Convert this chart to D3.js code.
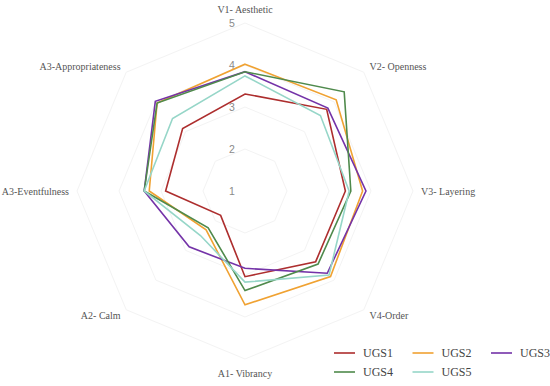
<!DOCTYPE html>
<html>
<head>
<meta charset="utf-8">
<script src="https://cdn.jsdelivr.net/npm/d3@7"></script>
<style>
  body { margin: 0; background: #fff; }
  svg { display: block; }
</style>
</head>
<body>
<svg id="chart" width="550" height="386"></svg>
<script>
// radar axes, clockwise from the top
const axes = ["V1- Aesthetic", "V2- Openness", "V3- Layering", "V4-Order",
              "A1- Vibrancy", "A2- Calm", "A3-Eventfulness", "A3-Appropriateness"]
const ticks = [1, 2, 3, 4, 5]

const seriesNames = ["UGS1", "UGS2", "UGS3", "UGS4", "UGS5"]
const ugs1 = [3.31, 3.75, 3.39, 3.38, 3.04, 1.82, 2.89, 3.10]
const ugs2 = [4.02, 4.07, 3.80, 3.88, 3.71, 2.31, 3.28, 3.96]
const ugs3 = [3.84, 3.79, 3.88, 3.77, 2.84, 2.88, 3.40, 4.02]
const ugs4 = [3.84, 4.34, 3.52, 3.46, 3.37, 2.24, 3.40, 3.96]
const ugs5 = [3.74, 3.54, 3.48, 3.83, 3.17, 2.50, 3.40, 3.44]
const colors = ["#ad2e2e", "#f0a232", "#7433a8", "#4f8a4c", "#96d6c8"]

let series = [ugs1, ugs2, ugs3, ugs4, ugs5].map((v, i) => ({name: seriesNames[i], values: v, color: colors[i]}))

let svg = d3.select("#chart"),
    cx = 245, cy = 191, R = 168

let r = d3.scaleLinear().domain([1, 5]).range([0, R])
let angle = i => i * 2 * Math.PI / axes.length

let g = svg.append("g").attr("transform", "translate(" + cx + "," + cy + ")")

// faint octagon grid
let radial = d3.lineRadial().curve(d3.curveLinearClosed)
g.append("g").selectAll("path").data(ticks.slice(1)).enter().append("path")
    .attr("d", t => radial(axes.map((a, i) => [angle(i), r(t)])))
    .style("fill", "none").style("stroke", "#f3f3f3").style("stroke-width", 1)

// tick labels on the vertical axis
g.append("g").selectAll("text").data(ticks).enter().append("text")
    .attr("x", -13).attr("y", t => -r(t)).attr("dy", "0.35em")
    .attr("text-anchor", "middle")
    .style("font-family", "'Liberation Sans', Arial, sans-serif").style("font-size", "10.5px")
    .style("fill", "#8a8a8a")
    .text(t => t)

// axis labels
g.append("g").selectAll("text").data(axes).enter().append("text")
    .each(function(d, i) {
        let a = angle(i), s = Math.sin(a), c = Math.cos(a)
        let off = Math.abs(s) < 0.01 ? 14 : 8
        d3.select(this)
            .attr("x", (R + off) * s).attr("y", -(R + off) * c)
            .attr("text-anchor", s > 0.01 ? "start" : s < -0.01 ? "end" : "middle")
    })
    .attr("dy", "0.35em")
    .style("font-family", "'Liberation Serif', 'Times New Roman', serif").style("font-size", "10px")
    .style("fill", "#555")
    .text(d => d)

// series lines
let line = d3.lineRadial()
    .angle((d, i) => angle(i))
    .radius(d => r(d))
    .curve(d3.curveLinearClosed)

g.append("g").selectAll("path").data(series).enter().append("path")
    .attr("d", d => line(d.values))
    .style("fill", "none").style("stroke", d => d.color).style("stroke-width", 1.6)
    .style("stroke-linejoin", "miter")

// legend, three per row
let legend = svg.append("g").selectAll("g").data(series).enter().append("g")
    .attr("transform", (d, i) => "translate(" + (334 + (i % 3) * 78.5) + "," + (353 + Math.floor(i / 3) * 19) + ")")
legend.append("line").attr("x1", 0).attr("x2", 21)
    .style("stroke", d => d.color).style("stroke-width", 1.6)
legend.append("text").attr("x", 29).attr("dy", "0.35em")
    .style("font-family", "'Liberation Serif', 'Times New Roman', serif").style("font-size", "12px")
    .style("fill", "#444")
    .text(d => d.name)
</script>
</body>
</html>
